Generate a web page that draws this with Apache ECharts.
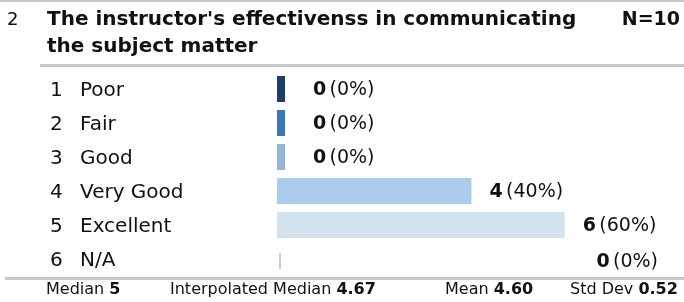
<!DOCTYPE html>
<html>
<head>
<meta charset="utf-8">
<script src="https://cdn.jsdelivr.net/npm/echarts@6/dist/echarts.min.js"></script>
<style>
  html, body { margin: 0; padding: 0; background: #fff; }
  #chart { width: 684px; height: 302px; }
</style>
</head>
<body>
<div id="chart"></div>
<script>
  // question data
  const questionNo = '2';
  const questionText = "The instructor's effectivenss in communicating\nthe subject matter";
  const totalN = 10;
  const codes = ['1', '2', '3', '4', '5', '6'];
  const labels = ['Poor', 'Fair', 'Good', 'Very Good', 'Excellent', 'N/A'];
  const counts = [0, 0, 0, 4, 6, 0];
  const percents = [0, 0, 0, 40, 60, 0];
  const barColors = ['#1d3f68', '#3b78b5', '#94b5d8', '#abcdeb', '#d4e1ee', '#cccccc'];
  const statNames = ['Median', 'Interpolated Median', 'Mean', 'Std Dev'];
  const statValues = ['5', '4.67', '4.60', '0.52'];

  const FONT = '"DejaVu Sans", Verdana, sans-serif';
  const naIndex = labels.indexOf('N/A');

  const chart = echarts.init(document.getElementById('chart'), null, { renderer: 'canvas' });

  const statX = [46, 170, 445, 570];

  const option = {
    animation: false,
    grid: { left: 285, right: 26, top: 72, height: 204 },
    xAxis: {
      type: 'value', min: 0, max: 8,
      show: false
    },
    yAxis: {
      type: 'category',
      inverse: true,
      data: codes.map((c, i) => c + '|' + labels[i]),
      axisLine: { show: false },
      axisTick: { show: false },
      axisLabel: {
        align: 'left',
        margin: 235,
        formatter: (val) => {
          const [c, l] = val.split('|');
          return '{n|' + c + '}{t|' + l + '}';
        },
        rich: {
          n: { width: 30, fontSize: 20, fontFamily: FONT, color: '#111', padding: [3, 0, 0, 0] },
          t: { fontSize: 20, fontFamily: FONT, color: '#111', padding: [3, 0, 0, 0] }
        }
      }
    },
    graphic: [
      { type: 'rect', shape: { x: 0, y: 0, width: 684, height: 2 }, style: { fill: '#c8c8c8' } },
      { type: 'rect', shape: { x: 40, y: 64, width: 644, height: 3 }, style: { fill: '#c8c8c8' } },
      { type: 'rect', shape: { x: 5, y: 277, width: 679, height: 3 }, style: { fill: '#c8c8c8' } },
      { type: 'text', left: 7, top: 11, style: { text: questionNo, font: '18px ' + FONT, fill: '#111' } },
      { type: 'text', left: 47, top: 6, style: { text: questionText, font: 'bold 20px ' + FONT, fill: '#111', lineHeight: 27 } },
      { type: 'text', right: 4, top: 11, style: { text: 'N=' + totalN, font: 'bold 19px ' + FONT, fill: '#111' } }
    ].concat(statNames.map((s, i) => ({
      type: 'text', left: statX[i], top: 282,
      style: {
        text: '{a|' + s + ' }{b|' + statValues[i] + '}',
        rich: {
          a: { fontSize: 16, fontFamily: FONT, fill: '#111' },
          b: { fontSize: 16, fontFamily: FONT, fontWeight: 'bold', fill: '#111' }
        }
      }
    }))),
    series: [{
      type: 'custom',
      encode: { x: 1, y: 0 },
      data: counts.map((v, i) => [i, v]),
      renderItem: (params, api) => {
        const i = api.value(0);
        const v = api.value(1);
        const start = api.coord([0, i]);
        const end = api.coord([v, i]);
        const band = api.size([0, 1])[1];
        const h = band * 26 / 34;
        const cs = params.coordSys;
        const children = [];
        if (i === naIndex) {
          children.push({
            type: 'rect',
            shape: { x: start[0] - 6, y: start[1] - 6, width: 2, height: 16 },
            style: { fill: barColors[i] }
          });
        } else {
          children.push({
            type: 'rect',
            shape: { x: start[0] - 8, y: start[1] - h / 2, width: end[0] - start[0] + 8, height: h },
            style: { fill: barColors[i] }
          });
        }
        const txt = '{b|' + v + '} {a|(' + percents[i] + '%)}';
        const rich = {
          a: { fontSize: 19, fontFamily: FONT, fill: '#111' },
          b: { fontSize: 19, fontFamily: FONT, fontWeight: 'bold', fill: '#111' }
        };
        const ty = start[1] + 1;
        if (i === naIndex) {
          children.push({ type: 'text', x: cs.x + cs.width, y: ty + 2, style: { text: txt, rich, align: 'right', verticalAlign: 'middle' } });
        } else {
          const lx = end[0] + 18 + (v === 0 ? 10 : 0);
          children.push({ type: 'text', x: lx, y: ty, style: { text: txt, rich, align: 'left', verticalAlign: 'middle' } });
        }
        return { type: 'group', children };
      }
    }]
  };

  chart.setOption(option);
</script>
</body>
</html>
